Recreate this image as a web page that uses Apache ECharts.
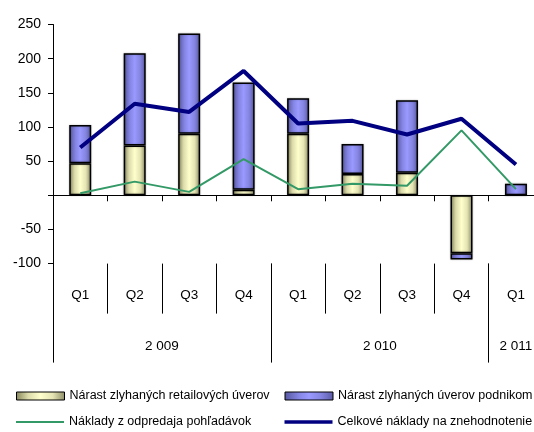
<!DOCTYPE html>
<html>
<head>
<meta charset="utf-8">
<script src="https://cdn.jsdelivr.net/npm/echarts@6/dist/echarts.min.js"></script>
<style>
  html, body { margin: 0; padding: 0; background: #fff; overflow: hidden; }
  #chart { width: 534px; height: 432px; }
</style>
</head>
<body>
<div id="chart"></div>
<script>
// Quarterly categories and year groups
var quarters = ['Q1', 'Q2', 'Q3', 'Q4', 'Q1', 'Q2', 'Q3', 'Q4', 'Q1'];
var years = ['2 009', '2 010', '2 011'];
var quartersPerYear = [4, 4, 1];

// Series values (mil. EUR)
var retailGrowth = [47, 73, 90, 8, 90, 31, 33, -85, 0];
var corporateGrowth = [56, 135, 147, 157, 52, 44, 106, -9, 17];
var saleCosts = [3, 20, 5, 53, 9, 17, 14, 95, 9];
var totalImpairment = [70, 134, 122, 182, 105, 109, 89, 112, 45];

var seriesNames = [
  'Nárast zlyhaných retailových úverov',
  'Nárast zlyhaných úverov podnikom',
  'Náklady z odpredaja pohľadávok',
  'Celkové náklady na znehodnotenie úverov'
];

// Year group boundaries and centres on a 0..n scale
var yearBounds = [0], yearCenters = [];
quartersPerYear.forEach(function (n, i) {
  var start = yearBounds[yearBounds.length - 1];
  yearBounds.push(start + n);
  yearCenters.push(start + n / 2);
});

var FONT = 'Liberation Sans, Arial, sans-serif';

var retailFill = new echarts.graphic.LinearGradient(0, 0, 1, 0, [
  { offset: 0, color: '#86865c' },
  { offset: 0.25, color: '#dcdcac' },
  { offset: 0.5, color: '#ffffcc' },
  { offset: 0.75, color: '#e4e4b4' },
  { offset: 1, color: '#8e8e68' }
]);
var corpFill = new echarts.graphic.LinearGradient(0, 0, 1, 0, [
  { offset: 0, color: '#56569e' },
  { offset: 0.3, color: '#8686e6' },
  { offset: 0.5, color: '#9999ff' },
  { offset: 0.75, color: '#8484e0' },
  { offset: 1, color: '#5a5aa6' }
]);

function legendAt(name, left, top, iconH) {
  return {
    data: [{ name: name, icon: 'rect' }], left: left, top: top, padding: 0,
    itemWidth: 48, itemHeight: iconH, itemGap: 4,
    itemStyle: { borderWidth: iconH > 4 ? 1 : 0, borderColor: '#000' },
    textStyle: { fontFamily: FONT, fontSize: 12.5, color: '#000', padding: [0, 0, 0, 0] }
  };
}

var chart = echarts.init(document.getElementById('chart'), null, { renderer: 'canvas' });
chart.setOption({
  backgroundColor: '#fff',
  animation: false,
  legend: [
    legendAt(seriesNames[0], 16, 389.5, 8),
    legendAt(seriesNames[1], 284.5, 389.5, 8),
    legendAt(seriesNames[2], 16, 415.5, 2),
    legendAt(seriesNames[3], 284.5, 415.5, 3.5)
  ],
  grid: { left: 53, width: 490.2, top: 24.5, bottom: 168.4, containLabel: false, outerBoundsMode: 'none' },
  xAxis: [
    {
      type: 'category', data: quarters, boundaryGap: true,
      axisLine: { onZero: true, lineStyle: { color: '#000', width: 1 } },
      axisTick: { show: true, length: 6, lineStyle: { color: '#000' } },
      axisLabel: { show: false }
    },
    {
      type: 'category', data: quarters, boundaryGap: true, position: 'bottom',
      axisLine: { show: false, onZero: false },
      axisTick: { show: true, length: 50, alignWithLabel: false, lineStyle: { color: '#000' } },
      axisLabel: { show: true, margin: 25, fontFamily: FONT, fontSize: 13.5, color: '#000' }
    },
    {
      type: 'value', min: 0, max: quarters.length, position: 'bottom',
      axisLine: { show: false, onZero: false },
      splitLine: { show: false },
      axisTick: { show: true, length: 99, customValues: yearBounds, lineStyle: { color: '#000' } },
      axisLabel: {
        show: true, margin: 76, customValues: yearCenters,
        fontFamily: FONT, fontSize: 13.5, color: '#000',
        formatter: function (v) {
          var i = yearCenters.indexOf(v);
          return i >= 0 ? years[i] : '';
        }
      }
    }
  ],
  yAxis: {
    type: 'value', min: -100, max: 250, interval: 50,
    axisLine: { show: true, lineStyle: { color: '#000' } },
    axisTick: { show: true, length: 5, lineStyle: { color: '#000' } },
    splitLine: { show: false },
    axisLabel: {
      margin: 12, fontFamily: FONT, fontSize: 14, color: '#000',
      formatter: function (v) { return v === 0 ? '' : String(v); }
    }
  },
  series: [
    {
      name: seriesNames[0], type: 'bar', stack: 'growth', data: retailGrowth,
      xAxisIndex: 0, barWidth: 22,
      itemStyle: { color: retailFill, borderColor: '#000', borderWidth: 1.5,
        shadowColor: 'rgba(0,0,0,0.25)', shadowBlur: 2 },
      z: 2
    },
    {
      name: seriesNames[1], type: 'bar', stack: 'growth', data: corporateGrowth,
      xAxisIndex: 0, barWidth: 22,
      itemStyle: { color: corpFill, borderColor: '#000', borderWidth: 1.5,
        shadowColor: 'rgba(0,0,0,0.25)', shadowBlur: 2 },
      z: 2
    },
    {
      name: seriesNames[2], type: 'line', data: saleCosts, xAxisIndex: 0,
      symbol: 'none', showSymbol: false,
      lineStyle: { color: '#339966', width: 2 }, itemStyle: { color: '#339966' },
      z: 3
    },
    {
      name: seriesNames[3], type: 'line', data: totalImpairment, xAxisIndex: 0,
      symbol: 'none', showSymbol: false,
      lineStyle: { color: '#000080', width: 4 }, itemStyle: { color: '#000080' },
      z: 4
    }
  ]
});
</script>
</body>
</html>
